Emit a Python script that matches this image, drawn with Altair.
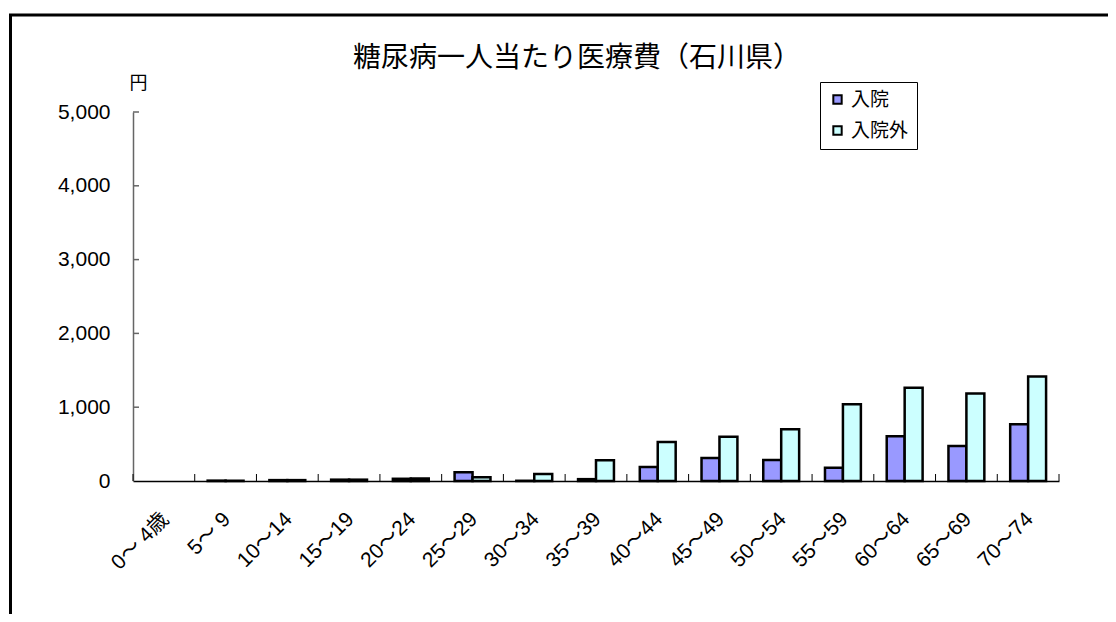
import altair as alt
import pandas as pd

# ---- data ----
categories = ["0～ 4歳", "5～ 9", "10～14", "15～19", "20～24", "25～29", "30～34",
              "35～39", "40～44", "45～49", "50～54", "55～59", "60～64", "65～69", "70～74"]
inpatient = [0, 5, 12, 18, 30, 120, 3, 25, 190, 310, 285, 180, 605, 475, 770]
outpatient = [0, 5, 12, 18, 35, 51, 96, 282, 530, 600, 700, 1040, 1265, 1185, 1415]
series = ["入院", "入院外"]
colors = ["#9999FF", "#CCFFFF"]
y_ticks = [0, 1000, 2000, 3000, 4000, 5000]
title_text = "糖尿病一人当たり医療費（石川県）"
y_unit = "円"

rows = []
for c, a, b in zip(categories, inpatient, outpatient):
    rows.append({"age": c, "kind": series[0], "cost": a})
    rows.append({"age": c, "kind": series[1], "cost": b})
df = pd.DataFrame(rows)

W, H = 926, 369
LATIN = "Liberation Sans, Noto Sans CJK JP"
CJK = "Noto Sans CJK JP"

x_scale = alt.Scale(domain=categories, paddingInner=0, paddingOuter=0)
y_scale = alt.Scale(domain=[0, 5000], nice=False, zero=True)

x_axis = alt.Axis(title=None, labelAngle=-45, ticks=False, tickSize=0, domainColor="black",
                  domainWidth=1.5, labelFontSize=21, labelFont=LATIN, labelColor="black",
                  labelPadding=27, labelAlign="right", labelBaseline="top", labelOffset=-6)
y_axis = alt.Axis(values=y_ticks, format=",.0f", title=y_unit, titleAngle=0, titleX=5, titleY=-29,
                  titleAlign="center", titleBaseline="middle", titleFontSize=18,
                  titleFont=CJK, titleFontWeight="normal", titleColor="black",
                  ticks=False, tickSize=0, labelPadding=23, labelFontSize=21, labelFont=LATIN,
                  labelColor="black", domainColor="#666666", domainWidth=1.5, grid=False)

bars = alt.Chart(df).transform_filter("datum.cost > 0").mark_bar(
    stroke="black", strokeWidth=2.5
).encode(
    x=alt.X("age:N", scale=x_scale, sort=categories, axis=x_axis),
    xOffset=alt.XOffset("kind:N", sort=series,
                        scale=alt.Scale(domain=series, paddingInner=0, paddingOuter=0.72)),
    y=alt.Y("cost:Q", scale=y_scale, axis=y_axis),
    color=alt.Color("kind:N", sort=series, scale=alt.Scale(domain=series, range=colors),
                    legend=alt.Legend(title=None, orient="none", legendX=687, legendY=-30,
                                      direction="vertical", strokeColor="black", fillColor="white",
                                      padding=8, symbolType="square", symbolSize=70,
                                      symbolStrokeColor="black", symbolStrokeWidth=2,
                                      symbolOpacity=1, labelFontSize=19, labelFont=CJK,
                                      labelColor="black", rowPadding=11, labelOffset=4)),
)

# inside tick marks of the category axis (at band boundaries)
tick_df = pd.DataFrame({"age": categories})
x_ticks = alt.Chart(tick_df).mark_rule(color="black", strokeWidth=1).encode(
    x=alt.X("age:N", scale=x_scale, sort=categories, bandPosition=0),
    y=alt.value(H - 7), y2=alt.value(H),
)
x_tick_end = alt.Chart(tick_df.tail(1)).mark_rule(color="black", strokeWidth=1).encode(
    x=alt.X("age:N", scale=x_scale, sort=categories, bandPosition=1),
    y=alt.value(H - 7), y2=alt.value(H),
)

# inside tick marks of the value axis
ytick_df = pd.DataFrame({"cost": y_ticks[1:]})
y_tick_marks = alt.Chart(ytick_df).mark_rule(color="#666666", strokeWidth=1.5).encode(
    y=alt.Y("cost:Q", scale=y_scale),
    x=alt.value(0), x2=alt.value(6),
)

# chart title
title_df = pd.DataFrame({"t": [title_text]})
title = alt.Chart(title_df).mark_text(
    font=CJK, fontSize=28, color="black", align="center", baseline="middle"
).encode(text="t:N", x=alt.value(444), y=alt.value(-53))

# outer chart frame (decoration)
one = pd.DataFrame({"k": [0]})
frame_left = alt.Chart(one).mark_rule(color="black", strokeWidth=3).encode(
    x=alt.value(-122.5), y=alt.value(-97), y2=alt.value(H + 140))
frame_top = alt.Chart(one).mark_rule(color="black", strokeWidth=3).encode(
    y=alt.value(-97), x=alt.value(-124), x2=alt.value(W + 60))

chart = alt.layer(frame_left, frame_top, title, bars, x_ticks, x_tick_end, y_tick_marks).properties(
    width=W, height=H,
    background="white",
    padding={"left": 125, "top": 104, "right": 49, "bottom": 133},
    autosize=alt.AutoSizeParams(type="none"),
).configure_view(strokeWidth=0, stroke="transparent")

chart.save("out.html", embed_options={"renderer": "svg", "actions": False})
